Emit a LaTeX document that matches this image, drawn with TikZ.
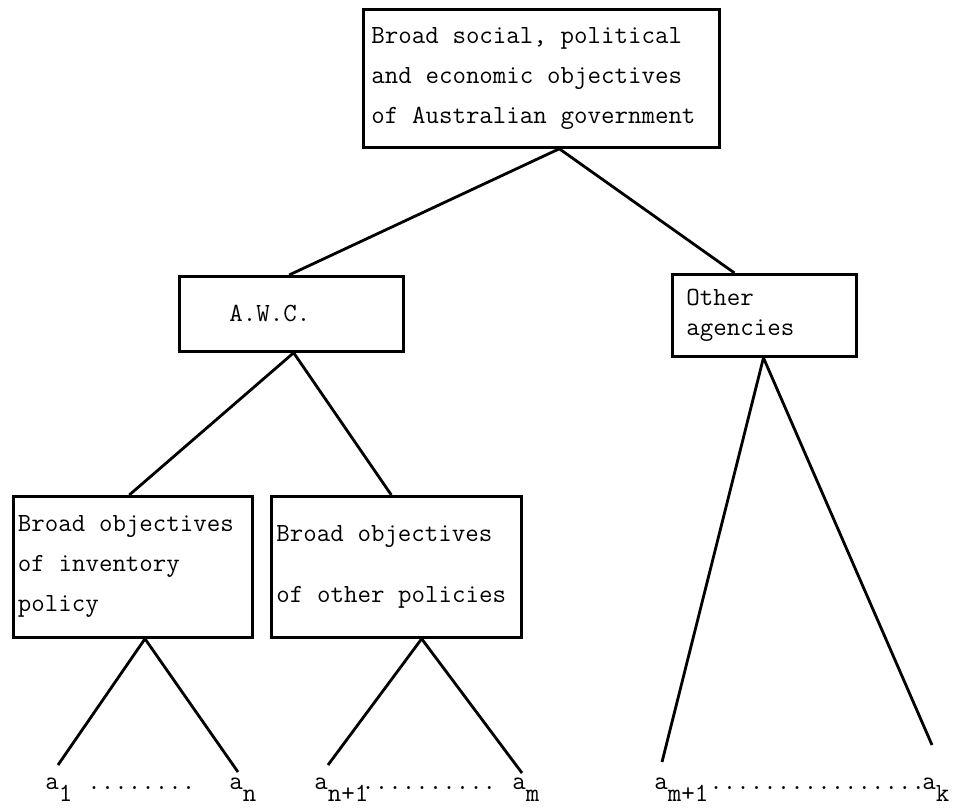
\documentclass[tikz,border=0pt]{standalone}
\usepackage{fontspec}
\usetikzlibrary{calc}
\newcommand{\lowsub}[1]{\raisebox{-7pt}{#1}}
% typewriter space: one full character cell
\newcommand{\tsp}{\hspace*{0.525em}}

\begin{document}
\begin{tikzpicture}[x=0.02cm, y=-0.02cm, line width=1.6pt,
    box/.style={draw, anchor=north west, align=left, inner ysep=0pt,
      font=\ttfamily\fontsize{14.9pt}{22.8pt}\selectfont},
    leaf/.style={anchor=base west, inner sep=0pt,
      font=\ttfamily\fontsize{14.9pt}{15pt}\selectfont}]
    % Page frame, same size as the scanned figure.
    \useasboundingbox (0,0) rectangle (953,810);

    % Boxes of the objectives tree.
    \node[box, text width=6.8cm, inner xsep=0.16cm, minimum height=2.76cm] (gov) at (362,8)
      {Broad\tsp social,\tsp political\\and\tsp economic\tsp objectives\\of\tsp Australian\tsp government};
    \node[box, text width=2.48cm, inner xsep=1cm, minimum height=1.5cm] (awc) at (178,275) {A.W.C.};
    \node[box, text width=3.12cm, inner xsep=0.28cm, minimum height=1.64cm] (other) at (671,273)
      {Other\\[-6pt]agencies};
    \node[box, text width=4.6cm, inner xsep=0.09cm, minimum height=2.82cm] (inv) at (12,495)
      {Broad\tsp objectives\\of\tsp inventory\\policy};
    \node[box, text width=4.8cm, inner xsep=0.1cm, minimum height=2.82cm] (pol) at (270,495)
      {Broad\tsp objectives\\[12pt]of\tsp other\tsp policies};

    % Instruments at the foot.
    \node[leaf] (a1) at (44,789) {a\lowsub{1}};
    \node[leaf] (d1) at (86,789) {........};
    \node[leaf] (an) at (228,789) {a\lowsub{n}};
    \node[leaf] (an1) at (313,789) {a\lowsub{n+1}};
    \node[leaf] (d2) at (360,789) {..........};
    \node[leaf] (am) at (511,789) {a\lowsub{m}};
    \node[leaf] (am1) at (653,789) {a\lowsub{m+1}};
    \node[leaf] (d3) at (708,789) {................};
    \node[leaf] (ak) at (921,789) {a\lowsub{k}};

    \coordinate (e1) at (58,765);
    \coordinate (e2) at (238,772);
    \coordinate (e3) at (328,765);
    \coordinate (e4) at (522,773);
    \coordinate (e5) at (662,762);
    \coordinate (e6) at (932,745);

    % Connectors.
    \draw ($(gov.south west)!0.55!(gov.south east)$) -- ($(awc.north west)!0.49!(awc.north east)$);
    \draw ($(gov.south west)!0.55!(gov.south east)$) -- ($(other.north west)!0.34!(other.north east)$);
    \draw ($(awc.south west)!0.51!(awc.south east)$) -- ($(inv.north west)!0.485!(inv.north east)$);
    \draw ($(awc.south west)!0.51!(awc.south east)$) -- ($(pol.north west)!0.48!(pol.north east)$);
    \draw ($(inv.south west)!0.55!(inv.south east)$) -- (e1);
    \draw ($(inv.south west)!0.55!(inv.south east)$) -- (e2);
    \draw ($(pol.south west)!0.6!(pol.south east)$) -- (e3);
    \draw ($(pol.south west)!0.6!(pol.south east)$) -- (e4);
    \draw ($(other.south west)!0.495!(other.south east)$) -- (e5);
    \draw ($(other.south west)!0.495!(other.south east)$) -- (e6);
\end{tikzpicture}
\end{document}
